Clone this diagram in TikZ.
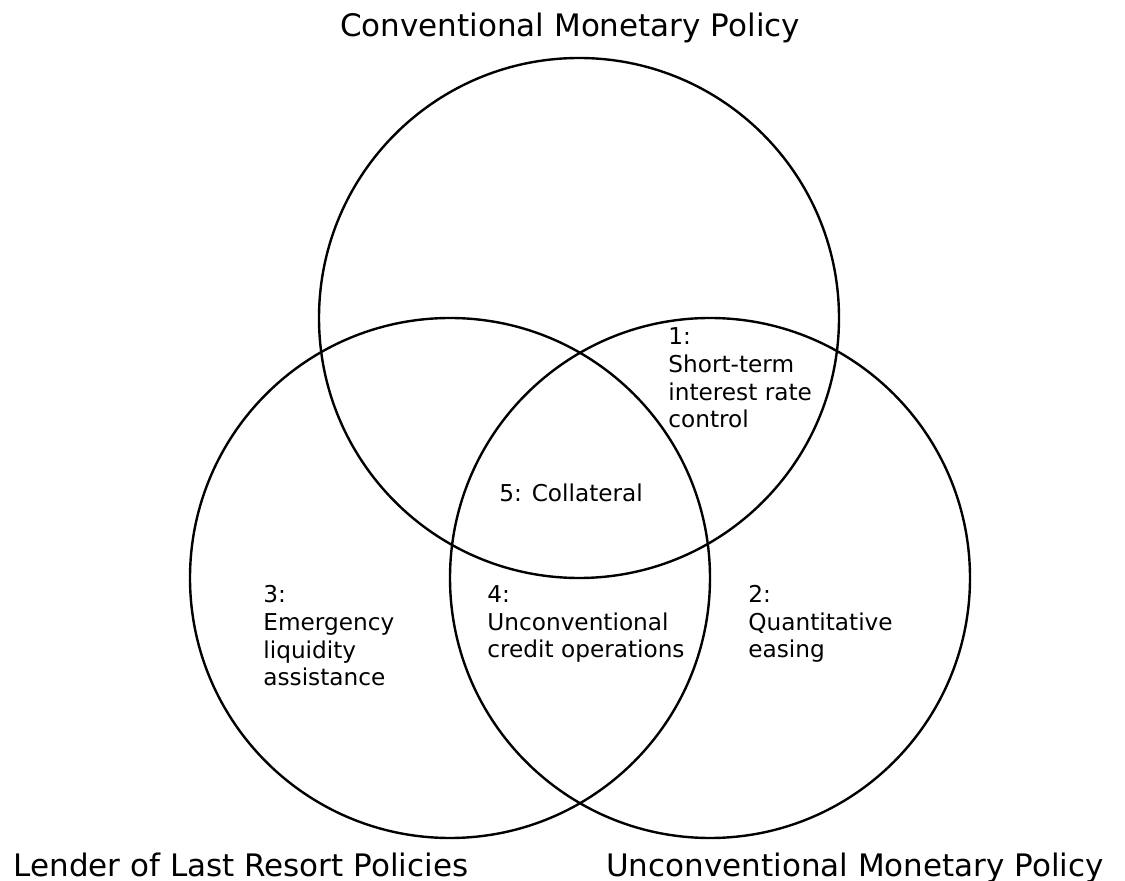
\documentclass[tikz,border=0pt]{standalone}
\usepackage{fontspec}
\setmainfont{DejaVu Sans}
\usetikzlibrary{positioning}

\begin{document}
\begin{tikzpicture}[
  x=0.5pt, y=-0.5pt,
  set/.style={draw, circle, line width=1.2pt, minimum size=260pt, inner sep=0pt},
  title/.style={font=\fontsize{15.5}{18}\selectfont, inner sep=0pt, anchor=base},
  region/.style={font=\fontsize{11.6}{13.85}\selectfont, align=left, inner sep=0pt, anchor=base west}
 ]
\useasboundingbox (0,0) rectangle (1125,881);
\node[set] (cmp) at (579,318) {};
\node[set] (lolr) at (450,578) {};
\node[set] (ump) at (710,578) {};
\node[title] (cmplabel)  at (570,37)  {Conventional Monetary Policy};
\node[title] (lolrlabel) at (241,876) {Lender of Last Resort Policies};
\node[title] (umplabel)  at (855,876) {Unconventional Monetary Policy};
% base sits on the last line of each region text
\node[region] (r1) at (668,428) {1:\\Short-term\\interest rate\\control};
\node[region] (r2) at (748,658) {2:\\Quantitative\\easing};
\node[region] (r3) at (263,686) {3:\\Emergency\\liquidity\\assistance};
\node[region] (r4) at (487,658) {4:\\Unconventional\\credit operations};
\node[region] (r5) at (499,502) {5: Collateral};
\end{tikzpicture}
\end{document}
